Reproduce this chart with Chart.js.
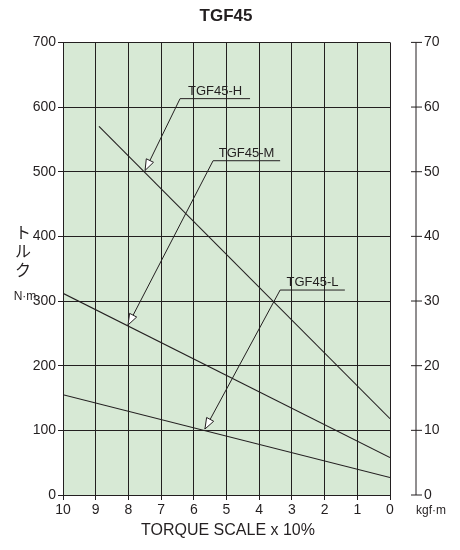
<!DOCTYPE html>
<html>
<head>
<meta charset="utf-8">
<script src="https://cdn.jsdelivr.net/npm/chart.js@4/dist/chart.umd.min.js"></script>
<style>
  body { margin: 0; background: #fff; }
  #wrap { width: 460px; height: 550px; }
</style>
</head>
<body>
<div id="wrap"><canvas id="c"></canvas></div>
<script>
// data (x = torque scale, y = N·m)
const seriesNames = ['TGF45-H', 'TGF45-M', 'TGF45-L'];
const lineH = [{ x: 8.9, y: 570 }, { x: 0, y: 118 }];
const lineM = [{ x: 10, y: 312 }, { x: 0, y: 58 }];
const lineL = [{ x: 10, y: 155 }, { x: 0, y: 27 }];
// label leaders: [underline start x, underline end x, y, arrow tip x, arrow tip y]
const leaderH = [4.28, 6.42, 613, 7.49, 502];
const leaderM = [3.36, 5.41, 517, 8.01, 263];
const leaderL = [1.38, 3.36, 317, 5.66, 102];

const FONT = 'Arial, "Liberation Sans", sans-serif';
const ink = '#231f20';

// green background + custom right axis, titles and labels
const decor = {
  id: 'decor',
  beforeDraw(chart) {
    const { ctx, chartArea: a } = chart;
    ctx.save();
    ctx.fillStyle = '#d7e9d5';
    ctx.fillRect(a.left, a.top, a.right - a.left, a.bottom - a.top);
    ctx.restore();
  },
  afterDraw(chart) {
    const { ctx, chartArea: a, scales } = chart;
    const x = scales.x, y = scales.y, y2 = scales.y2;
    ctx.save();
    ctx.fillStyle = ink;
    ctx.strokeStyle = ink;
    ctx.font = 'bold 17px ' + FONT;
    ctx.textAlign = 'center';
    ctx.textBaseline = 'middle';
    ctx.fillText('TGF45', 226, 16);

    ctx.font = '16px ' + FONT;
    ctx.fillText('TORQUE SCALE x 10%', 228, 531);

    ctx.font = '16px "Noto Sans CJK JP", sans-serif';
    ['ト', 'ル', 'ク'].forEach((ch, i) => ctx.fillText(ch, 23, 232 + i * 19));
    ctx.font = '12px ' + FONT;
    ctx.fillText('N·m', 25, 297);
    ctx.fillText('kgf·m', 431, 511);

    // right axis line, ticks crossing it
    const rx = a.right + 26;
    ctx.lineWidth = 1;
    ctx.beginPath();
    ctx.moveTo(rx, y2.getPixelForValue(70));
    ctx.lineTo(rx, y2.getPixelForValue(0));
    for (let v = 0; v <= 70; v += 10) {
      const py = y2.getPixelForValue(v);
      ctx.moveTo(rx - 5, py);
      ctx.lineTo(rx + 6, py);
    }
    ctx.stroke();

    // leaders with labels
    const leaders = [leaderH, leaderM, leaderL];
    ctx.font = '13px ' + FONT;
    ctx.textAlign = 'center';
    ctx.textBaseline = 'bottom';
    leaders.forEach((ld, i) => {
      const x1 = x.getPixelForValue(ld[0]), x2 = x.getPixelForValue(ld[1]);
      const py = y.getPixelForValue(ld[2]);
      const tx = x.getPixelForValue(ld[3]), ty = y.getPixelForValue(ld[4]);
      ctx.fillStyle = ink;
      ctx.fillText(seriesNames[i], (x1 + x2) / 2, py - 1);
      ctx.beginPath();
      ctx.moveTo(x1, py);
      ctx.lineTo(x2, py);
      ctx.lineTo(tx, ty);
      ctx.stroke();
      // open arrow head
      const ang = Math.atan2(ty - py, tx - x2);
      const len = 11, w = 4;
      const bx = tx - len * Math.cos(ang), by = ty - len * Math.sin(ang);
      ctx.beginPath();
      ctx.moveTo(tx, ty);
      ctx.lineTo(bx + w * Math.sin(ang), by - w * Math.cos(ang));
      ctx.lineTo(bx - w * Math.sin(ang), by + w * Math.cos(ang));
      ctx.closePath();
      ctx.fillStyle = '#ffffff';
      ctx.fill();
      ctx.stroke();
    });
    ctx.restore();
  }
};

const lineStyle = { borderColor: ink, borderWidth: 1.1, pointRadius: 0, fill: false, tension: 0 };

new Chart(document.getElementById('c'), {
  type: 'line',
  data: {
    datasets: [
      { label: seriesNames[0], data: lineH, ...lineStyle },
      { label: seriesNames[1], data: lineM, ...lineStyle },
      { label: seriesNames[2], data: lineL, ...lineStyle }
    ]
  },
  options: {
    responsive: true,
    maintainAspectRatio: false,
    animation: false,
    layout: { padding: { top: 35, left: 0, right: 0, bottom: 0 } },
    plugins: { legend: { display: false }, tooltip: { enabled: false } },
    scales: {
      x: {
        type: 'linear', min: 0, max: 10, reverse: true,
        ticks: { stepSize: 1, color: ink, font: { size: 14, family: FONT }, padding: 2 },
        grid: { color: ink, lineWidth: 1, tickLength: 5 },
        border: { color: ink },
        afterFit(s) { s.height = 55; }
      },
      y: {
        min: 0, max: 700,
        ticks: { stepSize: 100, color: ink, font: { size: 14, family: FONT }, padding: 2 },
        grid: { color: ink, lineWidth: 1, tickLength: 5 },
        border: { color: ink },
        afterFit(s) { s.width = 63; }
      },
      y2: {
        position: 'right', min: 0, max: 70,
        ticks: { stepSize: 10, color: ink, font: { size: 14, family: FONT }, padding: 34 },
        grid: { drawOnChartArea: false, drawTicks: false },
        border: { display: false },
        afterFit(s) { s.width = 70; }
      }
    }
  },
  plugins: [decor]
});
</script>
</body>
</html>
